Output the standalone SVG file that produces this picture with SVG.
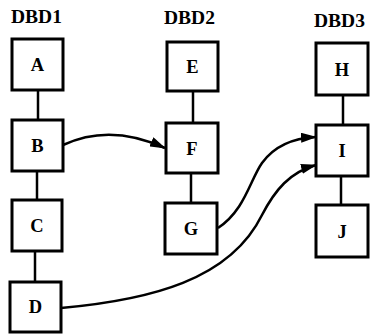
<svg xmlns="http://www.w3.org/2000/svg" width="372" height="335" viewBox="0 0 372 335">
<style>
.box{fill:#fff;stroke:#000;stroke-width:3}
.lbl{font-family:"Liberation Serif","Times New Roman",serif;font-weight:bold;font-size:18.5px;text-anchor:middle;fill:#000}
.ttl{font-family:"Liberation Serif","Times New Roman",serif;font-weight:bold;font-size:19.5px;fill:#000}
.ln{fill:none;stroke:#000;stroke-width:2.5}
</style>
<defs>
<marker id="ah" markerWidth="16" markerHeight="10" refX="15" refY="5" orient="auto" markerUnits="userSpaceOnUse">
<path d="M0,0 L16,5 L0,10 Z" fill="#000"/>
</marker>
</defs>
<rect width="372" height="335" fill="#fff"/>
<g id="titles">
<text class="ttl" x="11" y="23">DBD1</text>
<text class="ttl" x="164" y="24">DBD2</text>
<text class="ttl" x="314" y="27">DBD3</text>
</g>
<g id="connectors">
<line class="ln" x1="38" y1="90" x2="38" y2="120"/>
<line class="ln" x1="37" y1="171" x2="37" y2="200"/>
<line class="ln" x1="35" y1="251" x2="35" y2="282"/>
<line class="ln" x1="193" y1="91" x2="193" y2="123"/>
<line class="ln" x1="191" y1="173" x2="191" y2="203"/>
<line class="ln" x1="343" y1="95" x2="343" y2="125"/>
<line class="ln" x1="341" y1="176" x2="341" y2="205"/>
<path class="ln" d="M63,145 C95,130 130,132 165,148" marker-end="url(#ah)"/>
<path class="ln" d="M218,228 C245,210 250,180 262,163 C275,145 295,138 316,137" marker-end="url(#ah)"/>
<path class="ln" d="M61,308 C150,300 230,280 262,215 C275,190 290,172 316,165" marker-end="url(#ah)"/>
</g>
<g id="A"><rect class="box" x="12" y="39" width="51" height="51"/><text class="lbl" x="37.5" y="71">A</text></g>
<g id="B"><rect class="box" x="12" y="120" width="51" height="51"/><text class="lbl" x="37.5" y="152">B</text></g>
<g id="C"><rect class="box" x="12" y="200" width="50" height="51"/><text class="lbl" x="37" y="232">C</text></g>
<g id="D"><rect class="box" x="10" y="282" width="51" height="50"/><text class="lbl" x="35.5" y="313">D</text></g>
<g id="E"><rect class="box" x="167" y="42" width="51" height="49"/><text class="lbl" x="192.5" y="73">E</text></g>
<g id="F"><rect class="box" x="166" y="123" width="52" height="50"/><text class="lbl" x="192" y="155">F</text></g>
<g id="G"><rect class="box" x="165" y="203" width="52" height="51"/><text class="lbl" x="191" y="235">G</text></g>
<g id="H"><rect class="box" x="316" y="43" width="52" height="52"/><text class="lbl" x="342" y="76">H</text></g>
<g id="I"><rect class="box" x="316" y="125" width="52" height="51"/><text class="lbl" x="342" y="157">I</text></g>
<g id="J"><rect class="box" x="316" y="205" width="52" height="52"/><text class="lbl" x="342" y="238">J</text></g>
</svg>
